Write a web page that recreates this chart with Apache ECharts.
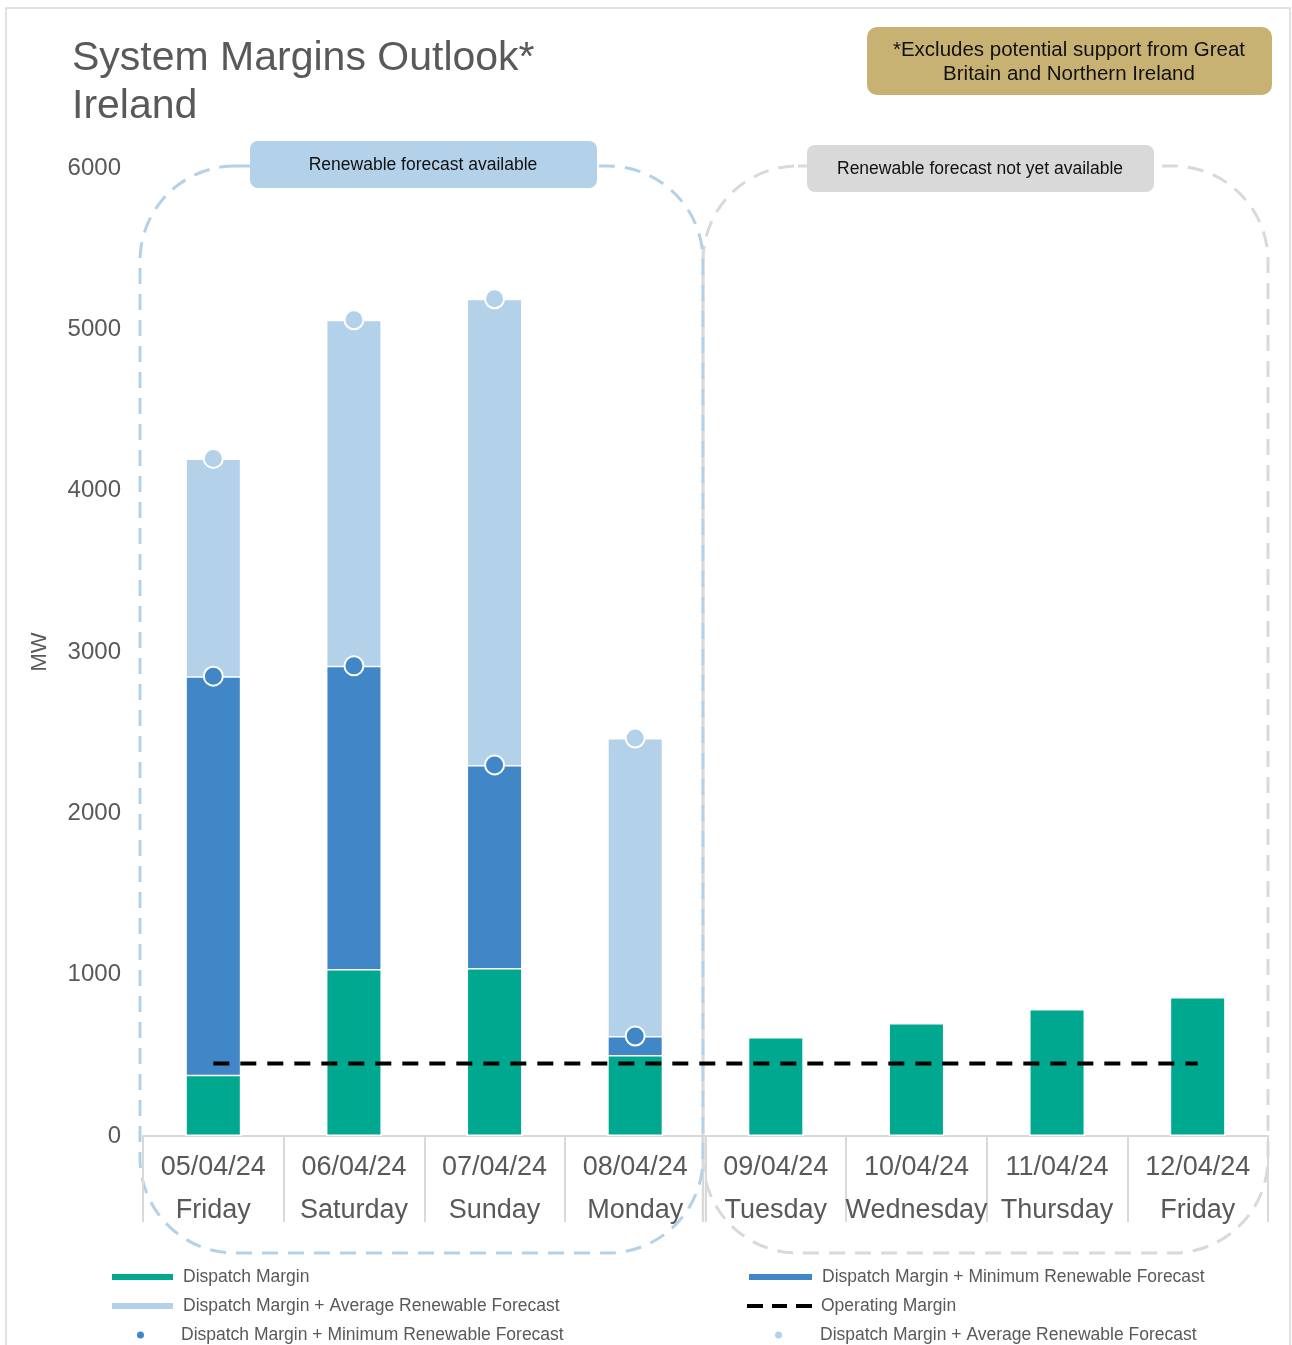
<!DOCTYPE html>
<html>
<head>
<meta charset="utf-8">
<title>System Margins Outlook - Ireland</title>
<script src="https://cdn.jsdelivr.net/npm/echarts@6/dist/echarts.min.js"></script>
<style>
  html, body { margin: 0; padding: 0; background: #fff; }
  #chart { width: 1292px; height: 1345px; }
</style>
</head>
<body>
<div id="chart"></div>
<script>
// data
var dates = ['05/04/24', '06/04/24', '07/04/24', '08/04/24', '09/04/24', '10/04/24', '11/04/24', '12/04/24'];
var days = ['Friday', 'Saturday', 'Sunday', 'Monday', 'Tuesday', 'Wednesday', 'Thursday', 'Friday'];
var dispatchMargin = [380, 1035, 1041, 502, 614, 700, 787, 862];
var minRenewable = [2850, 2914, 2300, 620, null, null, null, null];
var avgRenewable = [4200, 5059, 5189, 2467, null, null, null, null];
var operatingMargin = [450, 450, 450, 450, 450, 450, 450, 450];
var yTicks = [0, 1000, 2000, 3000, 4000, 5000, 6000];

var GREEN = '#00a88f', BLUE = '#4187c8', LIGHT = '#b3d1e8', GREY = '#d9d9d9', TXT = '#595959';
var FONT = '"Liberation Sans", Arial, sans-serif';

var categories = dates.map(function (d, i) { return d + '\n' + days[i]; });

var myChart = echarts.init(document.getElementById('chart'));

// one legend per entry so each sits where it does in the original
function legendAt(name, left, top, icon, h, w) {
  return {
    data: [{ name: name, icon: icon }],
    left: left, top: top, padding: 0,
    itemWidth: w || 63, itemHeight: h,
    selectedMode: false,
    textStyle: { fontFamily: FONT, fontSize: 17.5, color: TXT, lineHeight: 20, padding: [0, 0, 0, 4] }
  };
}

var dashIcon = 'path://M0,0h16v4h-16z M25,0h15v4h-15z M49,0h16v4h-16z';

var option = {
  backgroundColor: '#fff',
  animation: false,
  title: {
    text: 'System Margins Outlook*\nIreland',
    left: 72, top: 35, padding: 0,
    textStyle: { fontFamily: FONT, fontSize: 41, lineHeight: 48, fontWeight: 'normal', color: TXT }
  },
  grid: { left: 143, right: 24, top: 168, bottom: 209 },
  legend: [
    legendAt('Dispatch Margin', 110, 1267, 'rect', 8),
    legendAt('Dispatch Margin + Average Renewable Forecast', 110, 1296, 'rect', 8),
    legendAt('Dispatch Margin + Minimum Renewable Forecast ', 135, 1325, 'circle', 9),
    legendAt('Dispatch Margin + Minimum Renewable Forecast', 747, 1267, 'rect', 8, 65),
    legendAt('Operating Margin', 747, 1296, dashIcon, 8, 65),
    legendAt('Dispatch Margin + Average Renewable Forecast ', 773, 1325, 'circle', 9, 65)
  ],
  xAxis: {
    type: 'category',
    data: categories,
    axisLine: { lineStyle: { color: GREY, width: 2 } },
    axisTick: { show: true, interval: 0, alignWithLabel: false, length: 86, lineStyle: { color: GREY, width: 2 } },
    axisLabel: { interval: 0, margin: 10, fontFamily: FONT, fontSize: 27, lineHeight: 43, color: TXT }
  },
  yAxis: {
    type: 'value',
    min: yTicks[0], max: yTicks[yTicks.length - 1], interval: 1000,
    name: 'MW', nameLocation: 'middle', nameGap: 92,
    nameTextStyle: { fontFamily: FONT, fontSize: 22, color: TXT },
    axisLine: { show: false },
    axisTick: { show: false },
    splitLine: { show: false },
    axisLabel: { margin: 22, fontFamily: FONT, fontSize: 24, color: TXT,
                 formatter: function (v) { return String(v); } }
  },
  series: [
    {
      name: 'Dispatch Margin + Average Renewable Forecast',
      type: 'bar', data: avgRenewable, barWidth: 56, barGap: '-100%', z: 2,
      itemStyle: { color: LIGHT, borderColor: '#fff', borderWidth: 1.5 }
    },
    {
      name: 'Dispatch Margin + Minimum Renewable Forecast',
      type: 'bar', data: minRenewable, barWidth: 56, barGap: '-100%', z: 2,
      itemStyle: { color: BLUE, borderColor: '#fff', borderWidth: 1.5 }
    },
    {
      name: 'Dispatch Margin',
      type: 'bar', data: dispatchMargin, barWidth: 56, barGap: '-100%', z: 2,
      itemStyle: { color: GREEN, borderColor: '#fff', borderWidth: 1.5 }
    },
    {
      name: 'Operating Margin',
      type: 'line', data: operatingMargin, symbol: 'none', z: 4,
      lineStyle: { color: '#000', width: 4, type: [16, 11] },
      itemStyle: { color: '#000' }
    },
    {
      name: 'Dispatch Margin + Minimum Renewable Forecast ',
      type: 'scatter', data: minRenewable, symbolSize: 19, z: 5,
      itemStyle: { color: BLUE, borderColor: '#fff', borderWidth: 2, opacity: 1 }
    },
    {
      name: 'Dispatch Margin + Average Renewable Forecast ',
      type: 'scatter', data: avgRenewable, symbolSize: 19, z: 5,
      itemStyle: { color: LIGHT, borderColor: '#fff', borderWidth: 2, opacity: 1 }
    }
  ],
  graphic: [
    { type: 'rect', z: -10, silent: true, shape: { x: 6, y: 8, width: 1284, height: 1350 },
      style: { fill: 'none', stroke: GREY, lineWidth: 1.5 } },
    { type: 'line', z: -5, silent: true, shape: { x1: 703, y1: 245, x2: 703, y2: 1222 },
      style: { stroke: GREY, lineWidth: 2.5 } },
    { type: 'rect', z: -4, silent: true, shape: { x: 703, y: 166, width: 565, height: 1087, r: 95 },
      style: { fill: 'none', stroke: GREY, lineWidth: 3, lineDash: [16, 10] } },
    { type: 'rect', z: -3, silent: true, shape: { x: 140, y: 166, width: 563, height: 1087, r: 95 },
      style: { fill: 'none', stroke: LIGHT, lineWidth: 3, lineDash: [16, 10] } },
    // box labels
    { type: 'rect', z: 10, shape: { x: 250, y: 141, width: 347, height: 47, r: 8 },
      style: { fill: LIGHT } },
    { type: 'text', z: 11, x: 423, y: 165,
      style: { text: 'Renewable forecast available', fontFamily: FONT, fontSize: 17.5, fill: '#111',
               align: 'center', verticalAlign: 'middle' } },
    { type: 'rect', z: 10, shape: { x: 807, y: 145, width: 347, height: 47, r: 8 },
      style: { fill: GREY } },
    { type: 'text', z: 11, x: 980, y: 169,
      style: { text: 'Renewable forecast not yet available', fontFamily: FONT, fontSize: 17.5, fill: '#111',
               align: 'center', verticalAlign: 'middle' } },
    // footnote
    { type: 'rect', z: 10, shape: { x: 867, y: 27, width: 405, height: 68, r: 10 },
      style: { fill: '#c8b273' } },
    { type: 'text', z: 11, x: 1069, y: 62,
      style: { text: '*Excludes potential support from Great\nBritain and Northern Ireland', fontFamily: FONT,
               fontSize: 20.5, lineHeight: 24, fill: '#111', align: 'center', verticalAlign: 'middle' } }
  ]
};

myChart.setOption(option);
</script>
</body>
</html>
